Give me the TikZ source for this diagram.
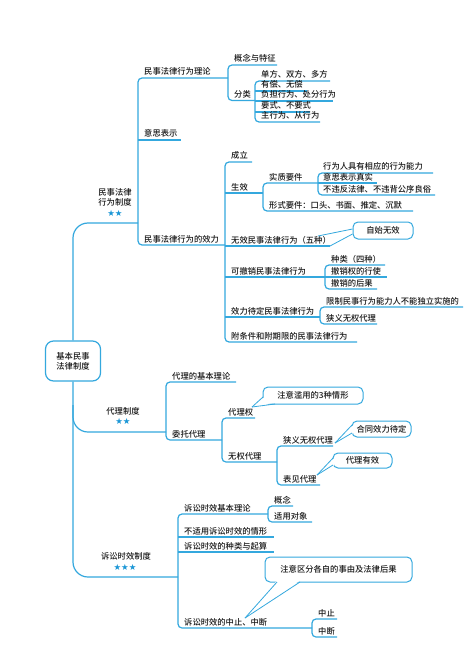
\documentclass[tikz,border=0pt]{standalone}
\usepackage{fontspec}
\setmainfont{Noto Sans CJK SC}[UprightFont={* Medium}]
\newfontfamily\starfont{DejaVu Sans}
\usetikzlibrary{calc}

\definecolor{mapblue}{RGB}{52,168,222}
\definecolor{startblue}{RGB}{26,150,214}
\definecolor{inkgray}{RGB}{25,25,25}

\tikzset{
	ln/.style={draw=mapblue,line width=1.2pt},
	brk/.style={ln,rounded corners=4pt},
	trunk/.style={ln,rounded corners=15pt},
	lb/.style={anchor=base west,inner sep=0pt,text=inkgray,font=\fontsize{8.3}{10}\selectfont},
	head/.style={align=center,inner sep=0pt,text=inkgray,font=\fontsize{8.3}{10}\selectfont},
	stars/.style={inner sep=0pt,text=startblue,font=\starfont\fontsize{8.5}{9}\selectfont},
	bubble/.style={draw=mapblue,line width=1pt,fill=white,rounded corners=5pt,inner sep=0pt,text=inkgray,font=\fontsize{8.3}{10}\selectfont},
	wedge/.style={draw=mapblue,line width=0.8pt}
}

\begin{document}
\begin{tikzpicture}[x=1pt,y=-1pt]
	\fill[white] (0,0) rectangle (474,671);
	\useasboundingbox (0,0) rectangle (474,671);

	% root and trunk
	\node[draw=mapblue,line width=1.2pt,rounded corners=8pt,minimum width=55pt,minimum height=40pt,head] (root) at (73,361) {基本民事\\法律制度};
	\draw[trunk] (root.north) -- (73,223) -- (138,223);
	\draw[trunk] (73,405) -- (73,432) -- (166,432);
	\draw[trunk] (root.south) -- (73,577) -- (178,577);

	\node[head] (mflx) at (115,197) {民事法律\\行为制度};
	\node[stars] (mflxs) at (115,213) {★★};
	\node[head] (dlzd) at (123,411) {代理制度};
	\node[stars] (dlzds) at (123,421.5) {★★};
	\node[head] (sssx) at (126,556) {诉讼时效制度};
	\node[stars] (sssxs) at (125,567.5) {★★★};

	% ---- 民事法律行为制度
	\draw[brk] (228,78) -- (138,78) -- (138,245) -- (225,245);
	\draw[ln] (138,140) -- (181,140);
	\node[lb] (ll) at (144,75) {民事法律行为理论};
	\node[lb] (yb) at (144,137) {意思表示};
	\node[lb] (xl) at (144,242) {民事法律行为的效力};

	\draw[brk] (277,65) -- (228,65) -- (228,100.5) -- (255,100.5);
	\node[lb] (gn) at (234,62) {概念与特征};
	\node[lb] (fl) at (234,97.5) {分类};

	\draw[brk] (330,81) -- (255,81) -- (255,122) -- (320,122);
	\draw[ln] (255,91) -- (307,91);
	\draw[ln] (255,101) -- (333,101);
	\draw[ln] (255,112) -- (310,112);
	\node[lb] (fl1) at (261,78) {单方、双方、多方};
	\node[lb] (fl2) at (261,88) {有偿、无偿};
	\node[lb] (fl3) at (261,98) {负担行为、处分行为};
	\node[lb] (fl4) at (261,109) {要式、不要式};
	\node[lb] (fl5) at (261,119) {主行为、从行为};

	\draw[brk] (252,162) -- (225,162) -- (225,342) -- (357,342);
	\draw[ln] (225,193) -- (263,193);
	\draw[ln] (225,246) -- (330,246);
	\draw[ln] (225,277) -- (325,277);
	\draw[ln] (225,317) -- (320,317);
	\node[lb] (cl) at (231,159) {成立};
	\node[lb] (sx) at (231,190) {生效};
	\node[lb] (wx) at (231,243) {无效民事法律行为（五种）};
	\node[lb] (kcx) at (231,274) {可撤销民事法律行为};
	\node[lb] (xldd) at (231,314) {效力待定民事法律行为};
	\node[lb] (ftj) at (231,339) {附条件和附期限的民事法律行为};

	\draw[brk] (318,183) -- (263,183) -- (263,211) -- (413,211);
	\node[lb] (sz) at (269,180) {实质要件};
	\node[lb] (xs) at (269,208) {形式要件：口头、书面、推定、沉默};

	\draw[brk] (433,173) -- (318,173) -- (318,195) -- (435,195);
	\draw[ln] (318,183) -- (377,183);
	\node[lb] (sz1) at (323,170) {行为人具有相应的行为能力};
	\node[lb] (sz2) at (323,180) {意思表示真实};
	\node[lb] (sz3) at (323,192) {不违反法律、不违背公序良俗};

	\node[bubble,minimum width=60pt,minimum height=17pt] (zswx) at (383,230.5) {自始无效};
	\draw[wedge] (zswx.west |- 0,229) -- (318,236);
	\draw[wedge] (zswx.west |- 0,234) -- (330,246);

	\draw[brk] (385,265) -- (325,265) -- (325,289) -- (377,289);
	\draw[ln] (325,277) -- (387,277);
	\node[lb] (kc1) at (331,262) {种类（四种）};
	\node[lb] (kc2) at (331,274) {撤销权的行使};
	\node[lb] (kc3) at (331,286) {撤销的后果};

	\draw[brk] (463,307) -- (320,307) -- (320,324) -- (377,324);
	\node[lb] (dd1) at (326,304) {限制民事行为能力人不能独立实施的};
	\node[lb] (dd2) at (326,321) {狭义无权代理};

	% ---- 代理制度
	\draw[brk] (236,382) -- (166,382) -- (166,440) -- (222,440);
	\node[lb] (dljb) at (172,379) {代理的基本理论};
	\node[lb] (wtdl) at (172,437) {委托代理};

	\draw[brk] (255,418) -- (222,418) -- (222,462) -- (277,462);
	\node[lb] (dlq) at (228,415) {代理权};
	\node[lb] (wqdl) at (228,459) {无权代理};

	\draw[brk] (333,446) -- (277,446) -- (277,485) -- (320,485);
	\node[lb] (xywq) at (283,443) {狭义无权代理};
	\node[lb] (bjdl) at (283,482) {表见代理};

	\node[bubble,minimum width=100pt,minimum height=17pt] (lyqx) at (313,395.5) {注意滥用的3种情形};
	\coordinate (t2) at (252,407);
	\fill[white] (t2) -- (264.5,397) -- (275,402.5) -- cycle;
	\draw[wedge] (t2) -- (263,397);
	\draw[wedge] (t2) -- (275,404);

	\node[bubble,minimum width=59pt,minimum height=16pt] (htxl) at (381.5,429) {合同效力待定};
	\coordinate (t3) at (335,443);
	\fill[white] (t3) -- (353.5,425) -- (353.5,433) -- cycle;
	\draw[wedge] (t3) -- (352,425);
	\draw[wedge] (t3) -- (352,433);

	\node[bubble,minimum width=59pt,minimum height=15pt] (dlyx) at (362.5,460.5) {代理有效};
	\coordinate (t4) at (317,475);
	\fill[white] (t4) -- (334.5,458) -- (334.5,465) -- cycle;
	\draw[wedge] (t4) -- (333,458);
	\draw[wedge] (t4) -- (333,465);

	% ---- 诉讼时效制度
	\draw[brk] (268,514) -- (178,514) -- (178,628) -- (312,628);
	\draw[ln] (178,537) -- (274,537);
	\draw[ln] (178,552) -- (274,552);
	\node[lb] (sxjb) at (184,511) {诉讼时效基本理论};
	\node[lb] (bsy) at (184,534) {不适用诉讼时效的情形};
	\node[lb] (zlqs) at (184,549) {诉讼时效的种类与起算};
	\node[lb] (zzzd) at (184,625) {诉讼时效的中止、中断};

	\draw[brk] (293,506) -- (268,506) -- (268,522) -- (312,522);
	\node[lb] (gnn) at (274,503) {概念};
	\node[lb] (sydx) at (274,519) {适用对象};

	\draw[brk] (337,619) -- (312,619) -- (312,637) -- (337,637);
	\node[lb] (zz) at (318,616) {中止};
	\node[lb] (zd) at (318,634) {中断};

	\node[bubble,minimum width=147pt,minimum height=25pt] (qfsy) at (338.5,569.5) {注意区分各自的事由及法律后果};
	\coordinate (t5) at (245,618);
	\fill[white] (t5) -- (277,580.5) -- (300,580.5) -- cycle;
	\draw[wedge] (t5) -- (277,582);
	\draw[wedge] (t5) -- (300,582);
\end{tikzpicture}
\end{document}
